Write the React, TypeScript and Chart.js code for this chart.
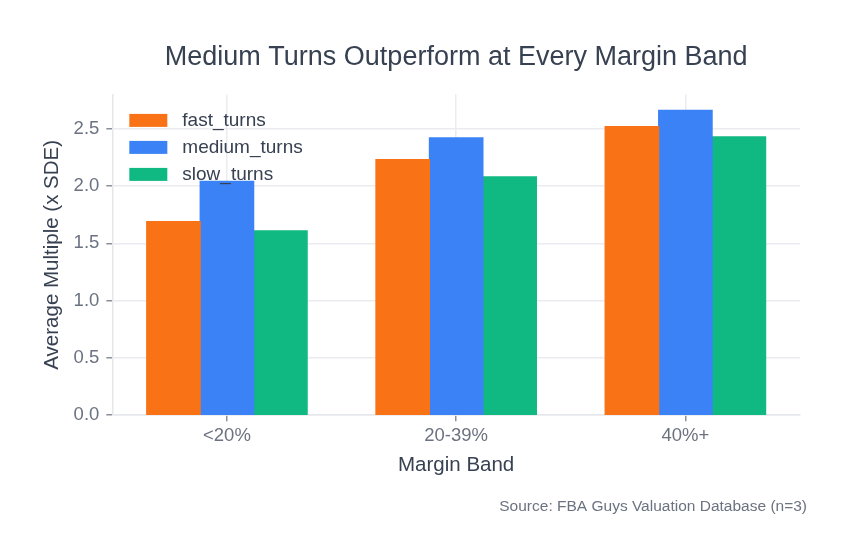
import React, { useEffect, useRef } from "react";
import { Chart, registerables } from "chart.js";

Chart.register(...registerables);

const bands = ["<20%", "20-39%", "40%+"];
const fastTurns = [1.69, 2.23, 2.52];
const mediumTurns = [2.04, 2.42, 2.66];
const slowTurns = [1.61, 2.08, 2.43];
const yTicks = [0, 0.5, 1.0, 1.5, 2.0, 2.5];
const sourceNote = "Source: FBA Guys Valuation Database (n=3)";

const FONT = "'Liberation Sans', Arial, Helvetica, sans-serif";

// legend drawn inside the plot (top-left) and the source note bottom-right
const overlays = {
    id: "overlays",
    afterDraw(chart: any) {
        const ctx = chart.ctx;
        const area = chart.chartArea;
        ctx.save();
        ctx.font = `19px ${FONT}`;
        ctx.textBaseline = "middle";
        chart.data.datasets.forEach((ds: any, i: number) => {
            const y = area.top + 26 + i * 27;
            ctx.fillStyle = ds.backgroundColor;
            ctx.fillRect(area.left + 17, y - 6.5, 38, 13);
            ctx.fillStyle = "#374151";
            ctx.fillText(ds.label, area.left + 70, y);
        });
        ctx.font = `15.5px ${FONT}`;
        ctx.fillStyle = "#6b7280";
        ctx.textAlign = "right";
        ctx.fillText(sourceNote, chart.width - 44, 507);
        ctx.restore();
    },
};

const App = () => {
    const canvasRef = useRef<HTMLCanvasElement | null>(null);

    useEffect(() => {
        document.body.style.margin = "0";
        const ctx = canvasRef.current?.getContext("2d");
        if (!ctx) return;

        const chart = new Chart(ctx, {
            type: "bar",
            data: {
                labels: bands,
                datasets: [
                    { label: "fast_turns", data: fastTurns, backgroundColor: "#f97316" },
                    { label: "medium_turns", data: mediumTurns, backgroundColor: "#3b82f6" },
                    { label: "slow_turns", data: slowTurns, backgroundColor: "#10b981" },
                ],
            },
            options: {
                animation: false,
                responsive: false,
                maintainAspectRatio: false,
                datasets: {
                    bar: { categoryPercentage: 0.7, barPercentage: 1, inflateAmount: 0.6 },
                },
                layout: { padding: { left: 0, right: 51, top: 0, bottom: 79 } },
                plugins: {
                    legend: { display: false },
                    tooltip: { enabled: false },
                    title: {
                        display: true,
                        fullSize: false,
                        text: "Medium Turns Outperform at Every Margin Band",
                        color: "#374151",
                        font: { family: FONT, size: 27, weight: "normal" },
                        padding: { top: 41, bottom: 21 },
                    },
                },
                scales: {
                    x: {
                        grid: {
                            offset: false,
                            color: "#ebebf0",
                            lineWidth: 1.5,
                            tickColor: "#8b8f99",
                            tickLength: 6,
                        },
                        border: { color: "#e5e7eb", width: 1.5 },
                        ticks: { color: "#6b7280", font: { family: FONT, size: 18.5 }, padding: 4 },
                        title: {
                            display: true,
                            text: "Margin Band",
                            color: "#374151",
                            font: { family: FONT, size: 20.5 },
                            padding: { top: 2, bottom: 0 },
                        },
                    },
                    y: {
                        min: 0,
                        max: 2.8,
                        afterBuildTicks: (scale: any) => {
                            scale.ticks = yTicks.map((v) => ({ value: v }));
                        },
                        grid: {
                            color: "#ebebf0",
                            lineWidth: 1.5,
                            tickColor: "#8b8f99",
                            tickLength: 6,
                        },
                        border: { color: "#e5e7eb", width: 1.5 },
                        ticks: {
                            color: "#6b7280",
                            font: { family: FONT, size: 18.5 },
                            padding: 7,
                            callback: (v: any) => Number(v).toFixed(1),
                        },
                        title: {
                            display: true,
                            text: "Average Multiple (x SDE)",
                            color: "#374151",
                            font: { family: FONT, size: 20.5 },
                            padding: { top: 40, bottom: 2 },
                        },
                    },
                },
            },
            plugins: [overlays],
        });

        return () => {
            chart.destroy();
        };
    }, []);

    return (
        <div style={{ width: 851, height: 557 }}>
            <canvas ref={canvasRef} width={851} height={557} />
        </div>
    );
};

export default App;
